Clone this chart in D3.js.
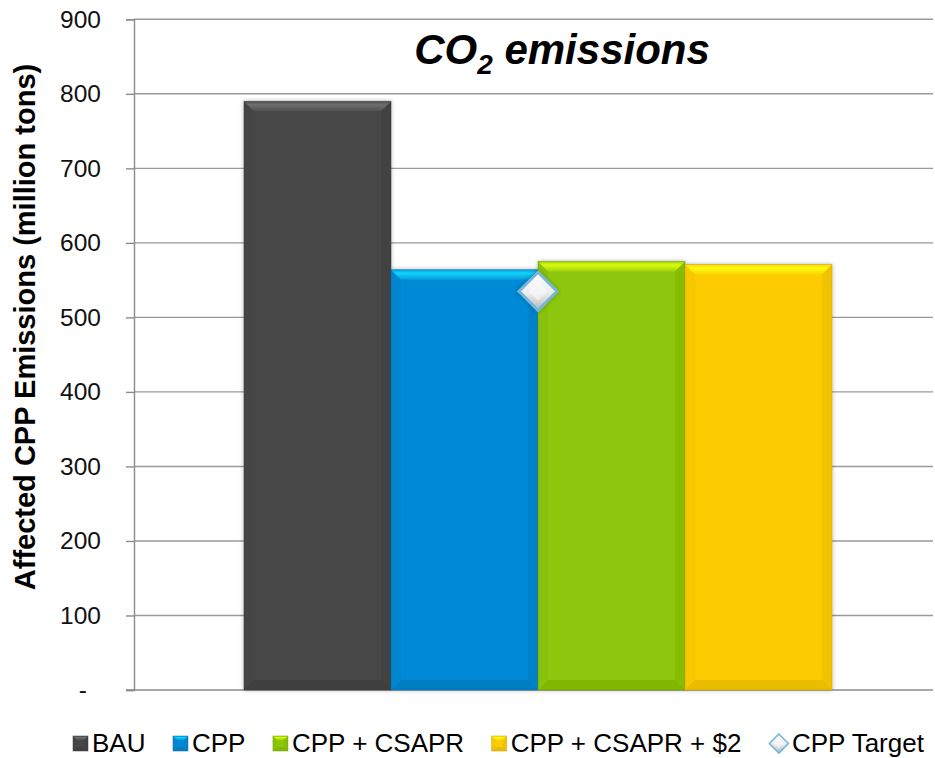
<!DOCTYPE html>
<html>
<head>
<meta charset="utf-8">
<script src="https://cdn.jsdelivr.net/npm/d3@7"></script>
<style>
  html, body { margin: 0; padding: 0; background: #fff; }
  svg { display: block; font-family: "Liberation Sans", Arial, sans-serif; }
</style>
</head>
<body>
<svg id="chart" width="935" height="758"></svg>
<script>
// Scenarios and their CO2 emissions (million tons)
const series = ["BAU", "CPP", "CPP + CSAPR", "CPP + CSAPR + $2"];
const values = [790, 564, 575, 571];
const colors = ["#474747", "#0689d4", "#8dc707", "#fdcc05"];
const targetLabel = "CPP Target";
const targetValue = 535;
const yTicks = [0, 100, 200, 300, 400, 500, 600, 700, 800, 900];

const svg = d3.select("#chart");
const margin = { left: 134, right: 2, top: 19.3, bottom: 68 };
const W = 935, H = 758;
const FONT = "Liberation Sans, Arial, sans-serif";

const y = d3.scaleLinear().domain([0, 900]).range([H - margin.bottom, margin.top]);
// Single category with four adjacent bars
const x = d3.scaleBand().domain(series).range([244, 832]).paddingInner(0).paddingOuter(0);

const defs = svg.append("defs");
const shadow = defs.append("filter").attr("id", "shadow")
  .attr("x", "-10%").attr("y", "-10%").attr("width", "120%").attr("height", "120%");
shadow.append("feDropShadow").attr("dx", 0).attr("dy", 0).attr("stdDeviation", 2)
  .attr("flood-color", "#000").attr("flood-opacity", 0.3);

const diamondGrad = defs.append("linearGradient").attr("id", "diamondFill")
  .attr("x1", 0).attr("y1", 0).attr("x2", 0).attr("y2", 1);
diamondGrad.append("stop").attr("offset", "0%").attr("stop-color", "#ffffff");
diamondGrad.append("stop").attr("offset", "55%").attr("stop-color", "#ececec");
diamondGrad.append("stop").attr("offset", "100%").attr("stop-color", "#b8b8b8");

// Gridlines
svg.append("g").selectAll("line").data(yTicks.filter(d => d > 0)).join("line")
  .attr("x1", margin.left).attr("x2", W - margin.right)
  .attr("y1", d => y(d)).attr("y2", d => y(d))
  .attr("stroke", "#9a9a9a").attr("stroke-width", 1.4);

// Y axis
const yAxis = d3.axisLeft(y).tickValues(yTicks).tickSize(8).tickPadding(25)
  .tickFormat(d => d === 0 ? "-" : d);
const gy = svg.append("g").attr("transform", `translate(${margin.left},0)`).call(yAxis);
gy.select(".domain").attr("stroke", "#8c8c8c").attr("stroke-width", 1.4);
gy.selectAll(".tick line").attr("stroke", "#8c8c8c").attr("stroke-width", 1.4);
gy.selectAll(".tick text").attr("font-size", 24.5).attr("fill", "#111").attr("font-family", FONT)
  .attr("dx", d => d === 0 ? -14 : 0);

// Baseline
svg.append("line").attr("x1", margin.left - 8).attr("x2", W - margin.right)
  .attr("y1", y(0)).attr("y2", y(0)).attr("stroke", "#8c8c8c").attr("stroke-width", 1.6);

// Beveled bar
let gid = 0;
function bevelBar(g, x0, y0, w, h, color, b) {
  const c = d3.color(color);
  const light = c.brighter(1.3).formatHex();
  const dark = c.darker(0.7).formatHex();
  const x1 = x0 + w, y1 = y0 + h;
  const id = "topg" + (gid++);
  const tgrad = defs.append("linearGradient").attr("id", id)
    .attr("x1", 0).attr("y1", 0).attr("x2", 0).attr("y2", 1);
  tgrad.append("stop").attr("offset", "0%").attr("stop-color", light).attr("stop-opacity", 0.2);
  tgrad.append("stop").attr("offset", "35%").attr("stop-color", light).attr("stop-opacity", 0.95);
  tgrad.append("stop").attr("offset", "100%").attr("stop-color", light).attr("stop-opacity", 0.2);
  g.append("rect").attr("x", x0).attr("y", y0).attr("width", w).attr("height", h).attr("fill", color);
  const poly = (pts, fill, op) => g.append("polygon")
    .attr("points", pts.map(p => p.join(",")).join(" ")).attr("fill", fill).attr("opacity", op);
  poly([[x0, y0], [x1, y0], [x1 - b, y0 + b], [x0 + b, y0 + b]], `url(#${id})`, 1);
  poly([[x0, y1], [x1, y1], [x1 - b, y1 - b], [x0 + b, y1 - b]], dark, 0.35);
  poly([[x0, y0], [x0 + b, y0 + b], [x0 + b, y1 - b], [x0, y1]], dark, 0.1);
  poly([[x1, y0], [x1 - b, y0 + b], [x1 - b, y1 - b], [x1, y1]], dark, 0.22);
  g.append("rect").attr("x", x0).attr("y", y0).attr("width", w).attr("height", h)
    .attr("fill", "none").attr("stroke", dark).attr("stroke-width", 0.8).attr("opacity", 0.6);
}

const bars = svg.append("g").attr("filter", "url(#shadow)");
series.forEach((s, i) => {
  const g = bars.append("g");
  bevelBar(g, x(s), y(values[i]), x.bandwidth(), y(0) - y(values[i]), colors[i], 10);
});

// Target marker
function diamond(g, cx, cy, r, sw) {
  g.append("path")
    .attr("d", `M${cx},${cy - r} L${cx + r},${cy} L${cx},${cy + r} L${cx - r},${cy} Z`)
    .attr("fill", "url(#diamondFill)").attr("stroke", "#74b7da").attr("stroke-width", sw);
  const k = r * 0.5;
  g.append("path")
    .attr("d", `M${cx},${cy - k} L${cx + k},${cy} L${cx},${cy + k} L${cx - k},${cy} Z`)
    .attr("fill", "#ffffff").attr("opacity", 0.45);
}
const tg = svg.append("g").attr("filter", "url(#shadow)");
diamond(tg, x("CPP") + x.bandwidth(), y(targetValue), 19, 3);

// Title
const title = svg.append("text").attr("x", 562).attr("y", 64).attr("text-anchor", "middle")
  .attr("font-size", 42).attr("font-weight", "bold").attr("font-style", "italic").attr("fill", "#000");
title.append("tspan").text("CO");
title.append("tspan").attr("font-size", 28).attr("dy", 10).text("2");
title.append("tspan").attr("dy", -10).text(" emissions");

// Y axis title
svg.append("text").attr("transform", `translate(35,327) rotate(-90)`)
  .attr("text-anchor", "middle").attr("font-size", 29).attr("font-weight", "bold").attr("fill", "#000")
  .text("Affected CPP Emissions (million tons)");

// Legend (flow layout)
const legendItems = series.map((s, i) => ({ label: s, color: colors[i], type: "square" }))
  .concat([{ label: targetLabel, type: "diamond" }]);
const ly = 752;
const lg = svg.append("g");
let cursor = 73;
legendItems.forEach(d => {
  const g = lg.append("g");
  const mx = cursor;
  if (d.type === "square") {
    bevelBar(g, mx, ly - 16, 15, 15, d.color, 4);
  } else {
    diamond(g, mx + 10, ly - 8.5, 9.5, 1.6);
  }
  const tx = mx + (d.type === "square" ? 19 : 23);
  const t = g.append("text").attr("x", tx).attr("y", ly)
    .attr("font-size", 26).attr("fill", "#000").text(d.label);
  cursor = tx + t.node().getComputedTextLength() + 27.5;
});
</script>
</body>
</html>
